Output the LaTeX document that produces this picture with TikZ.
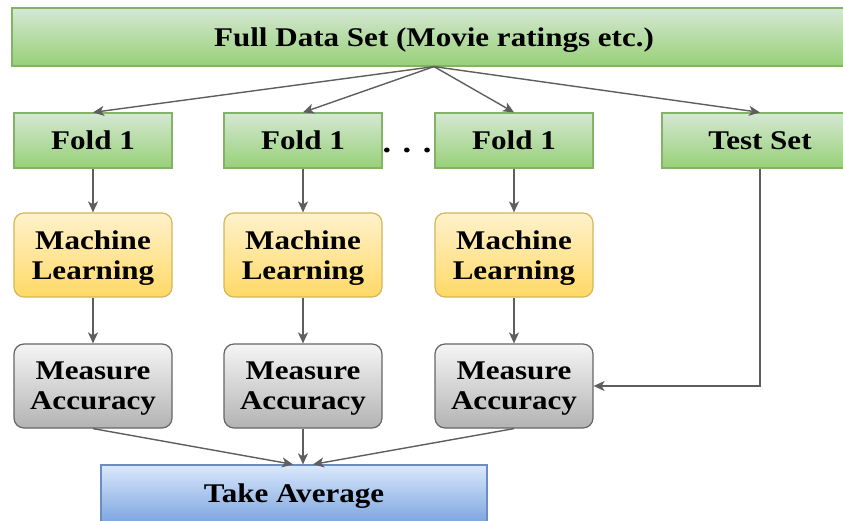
\documentclass[tikz,border=0pt]{standalone}
\usepackage{fontspec}
\setmainfont{Liberation Serif}[FakeStretch=1.15]
\usetikzlibrary{arrows.meta}

\definecolor{grTop}{HTML}{D5E8D4}
\definecolor{grBot}{HTML}{97D077}
\definecolor{grLine}{HTML}{82B366}
\definecolor{ylTop}{HTML}{FFF2CC}
\definecolor{ylBot}{HTML}{FFD966}
\definecolor{ylLine}{HTML}{D6B656}
\definecolor{gyTop}{HTML}{F5F5F5}
\definecolor{gyBot}{HTML}{B3B3B3}
\definecolor{gyLine}{HTML}{666666}
\definecolor{blTop}{HTML}{DAE8FC}
\definecolor{blBot}{HTML}{7EA6E0}
\definecolor{blLine}{HTML}{6C8EBF}
\definecolor{arrGray}{HTML}{5E5E5E}

\tikzset{
  boxtext/.style={font=\fontsize{27}{30}\selectfont\bfseries, align=center, inner sep=0pt, text depth=0pt},
  greenbox/.style={boxtext, draw=grLine, line width=1.2pt, top color=grTop, bottom color=grBot, minimum height=55pt},
  mlbox/.style={boxtext, draw=ylLine, line width=1.2pt, top color=ylTop, bottom color=ylBot, rounded corners=10pt, minimum width=158pt, minimum height=84pt},
  mabox/.style={boxtext, draw=gyLine, line width=1.2pt, top color=gyTop, bottom color=gyBot, rounded corners=10pt, minimum width=158pt, minimum height=84pt},
  avgbox/.style={boxtext, draw=blLine, line width=1.2pt, top color=blTop, bottom color=blBot, minimum width=386pt, minimum height=57pt},
  arr/.style={draw=arrGray, line width=1.4pt, -{Stealth[length=11pt, width=10pt, inset=3pt]}}
}

\begin{document}
\begin{tikzpicture}[x=1pt, y=-1pt]
  \clip (0,0) rectangle (843,521);

  % data set and folds
  \node[greenbox, minimum width=844pt, minimum height=58pt] (full) at (434,37) {Full Data Set (Movie ratings etc.)};
  \node[greenbox, minimum width=158pt] (f1) at (93,140.5) {Fold 1};
  \node[greenbox, minimum width=158pt] (f2) at (303,140.5) {Fold 1};
  \node[greenbox, minimum width=158pt] (f3) at (514,140.5) {Fold 1};
  \node[greenbox, minimum width=196pt] (test) at (760,140.5) {Test Set};
  \node[boxtext, font=\fontsize{30}{30}\selectfont\bfseries, anchor=base] (dots) at (407,153) {. . .};

  % training
  \node[mlbox] (ml1) at (93,255) {Machine\\Learning};
  \node[mlbox] (ml2) at (303,255) {Machine\\Learning};
  \node[mlbox] (ml3) at (514,255) {Machine\\Learning};

  % evaluation
  \node[mabox] (ma1) at (93,386) {Measure\\Accuracy};
  \node[mabox] (ma2) at (303,386) {Measure\\Accuracy};
  \node[mabox] (ma3) at (514,386) {Measure\\Accuracy};

  \node[avgbox] (avg) at (294,493.5) {Take Average};

  % connectors
  \draw[arr] (full.south) -- (f1.north);
  \draw[arr] (full.south) -- (f2.north);
  \draw[arr] (full.south) -- (f3.north);
  \draw[arr] (full.south) -- (test.north);

  \draw[arr] (f1) -- (ml1);
  \draw[arr] (f2) -- (ml2);
  \draw[arr] (f3) -- (ml3);
  \draw[arr] (ml1) -- (ma1);
  \draw[arr] (ml2) -- (ma2);
  \draw[arr] (ml3) -- (ma3);

  \draw[arr] (test.south) |- (ma3.east);

  \draw[arr] (ma1.south) -- ([xshift=-1pt]avg.north);
  \draw[arr] (ma2.south) -- ([xshift=9pt]avg.north);
  \draw[arr] (ma3.south) -- ([xshift=19pt]avg.north);
\end{tikzpicture}
\end{document}
